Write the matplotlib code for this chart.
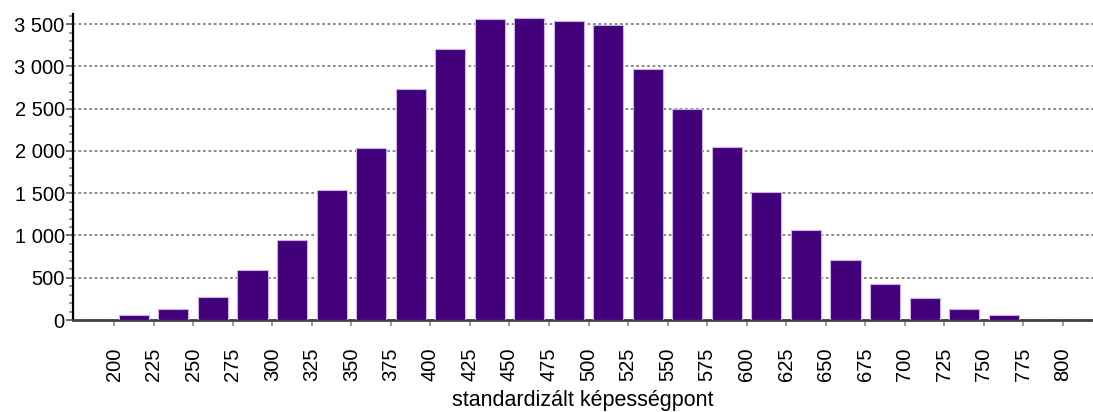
import matplotlib.pyplot as plt
from matplotlib.ticker import FuncFormatter, MultipleLocator

# bin edges (left) and counts
bin_left = [200, 225, 250, 275, 300, 325, 350, 375, 400, 425, 450, 475,
            500, 525, 550, 575, 600, 625, 650, 675, 700, 725, 750]
counts = [55, 126, 268, 595, 949, 1535, 2033, 2735, 3207, 3558, 3570, 3534,
          3491, 2971, 2502, 2045, 1515, 1064, 709, 429, 264, 126, 55]
tick_values = list(range(200, 801, 25))
x_label = "standardizált képességpont"

plt.rcParams['font.family'] = ['Liberation Sans', 'DejaVu Sans']

fig = plt.figure(figsize=(10.93, 4.12), dpi=100)
ax = fig.add_axes([0.0668, 0.2233, 0.9332, 0.7427])

centers = [b + 12.5 for b in bin_left]
ax.bar(centers, counts, width=19, color="#42007a", edgecolor="#c9b3e6",
       linewidth=0.8, zorder=3)

ax.set_xlim(174, 819)
ax.set_ylim(0, 3620)
ax.set_xticks(tick_values)
ax.set_xticklabels([str(t) for t in tick_values], rotation=90, fontsize=14.5)
ax.yaxis.set_major_locator(MultipleLocator(500))
ax.yaxis.set_minor_locator(MultipleLocator(100))
ax.yaxis.set_major_formatter(FuncFormatter(lambda v, p: f"{int(v):,}".replace(",", " ")))
ax.tick_params(axis='y', labelsize=14.5, length=5, width=1.2, color="#555555", pad=1)
ax.tick_params(axis='y', which='minor', length=3, width=1.2, color="#888888")
ax.tick_params(axis='x', length=4, width=1.2, color="#888888", pad=16)

ax.grid(axis='y', linestyle=(0, (1.5, 1.5)), color="#808080", linewidth=1.3, zorder=0)

for s in ['top', 'right']:
    ax.spines[s].set_visible(False)
ax.spines['left'].set_linewidth(1.6)
ax.spines['left'].set_color("black")
ax.spines['bottom'].set_linewidth(2)
ax.spines['bottom'].set_color("#444444")
ax.spines['bottom'].set_linestyle((0, (1.5, 1)))

ax.set_xlabel(x_label, fontsize=15.5, labelpad=6)

fig.savefig("out.png", dpi=100)
